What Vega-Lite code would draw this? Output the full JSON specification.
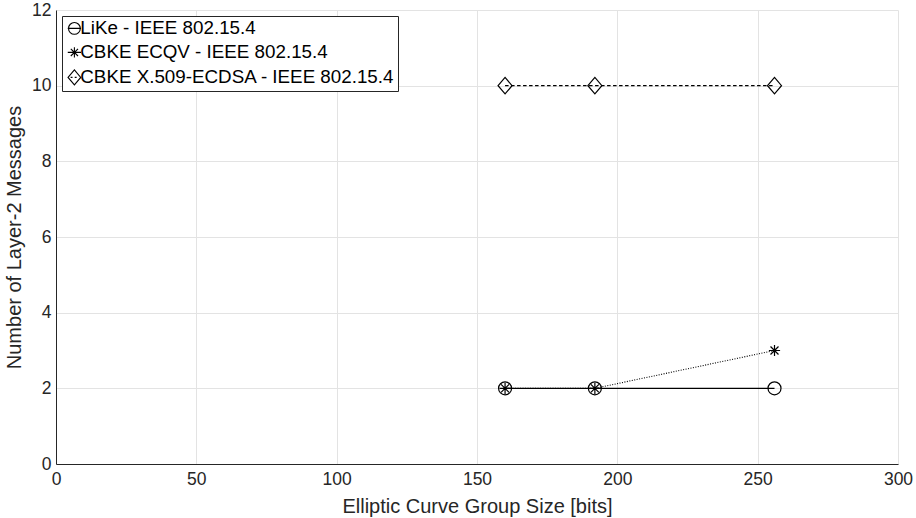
{
  "$schema": "https://vega.github.io/schema/vega-lite/v6.json",
  "width": 842,
  "height": 454,
  "autosize": {"type": "none"},
  "padding": {"left": 56, "top": 10, "right": 18, "bottom": 54},
  "background": "white",
  "config": {
    "font": "Liberation Sans",
    "view": {"stroke": null},
    "axis": {
      "labelFont": "Liberation Sans",
      "titleFont": "Liberation Sans",
      "labelColor": "#262626",
      "titleColor": "#262626",
      "domainColor": "#262626",
      "domainWidth": 1,
      "gridColor": "#e3e3e3",
      "gridWidth": 1,
      "ticks": false,
      "labelFontSize": 17.5,
      "titleFontSize": 20,
      "titleFontWeight": "normal"
    }
  },
  "data": {
    "values": [
      {"series": "LiKe - IEEE 802.15.4", "bits": 160, "msgs": 2},
      {"series": "LiKe - IEEE 802.15.4", "bits": 192, "msgs": 2},
      {"series": "LiKe - IEEE 802.15.4", "bits": 256, "msgs": 2},
      {"series": "CBKE ECQV - IEEE 802.15.4", "bits": 160, "msgs": 2},
      {"series": "CBKE ECQV - IEEE 802.15.4", "bits": 192, "msgs": 2},
      {"series": "CBKE ECQV - IEEE 802.15.4", "bits": 256, "msgs": 3},
      {"series": "CBKE X.509-ECDSA - IEEE 802.15.4", "bits": 160, "msgs": 10},
      {"series": "CBKE X.509-ECDSA - IEEE 802.15.4", "bits": 192, "msgs": 10},
      {"series": "CBKE X.509-ECDSA - IEEE 802.15.4", "bits": 256, "msgs": 10}
    ]
  },
  "encoding": {
    "x": {
      "field": "bits", "type": "quantitative",
      "scale": {"domain": [0, 300], "nice": false, "zero": false},
      "axis": {"values": [0, 50, 100, 150, 200, 250, 300], "title": "Elliptic Curve Group Size [bits]", "labelPadding": 6, "titlePadding": 9, "labelFlush": false}
    },
    "y": {
      "field": "msgs", "type": "quantitative",
      "scale": {"domain": [0, 12], "nice": false, "zero": false},
      "axis": {"values": [0, 2, 4, 6, 8, 10, 12], "title": "Number of Layer-2 Messages", "labelPadding": 5, "titlePadding": 7, "labelFlush": false}
    }
  },
  "resolve": {"scale": {"shape": "independent"}, "legend": {"shape": "independent"}},
  "layer": [
    {
      "transform": [{"filter": "datum.series === 'LiKe - IEEE 802.15.4'"}],
      "mark": {"type": "line", "color": "black", "strokeWidth": 1.2},
      "encoding": {}
    },
    {
      "transform": [{"filter": "datum.series === 'CBKE ECQV - IEEE 802.15.4'"}],
      "mark": {"type": "line", "color": "black", "strokeWidth": 1.1, "strokeDash": [1, 1.5]},
      "encoding": {}
    },
    {
      "transform": [{"filter": "datum.series === 'CBKE X.509-ECDSA - IEEE 802.15.4'"}],
      "mark": {"type": "line", "color": "black", "strokeWidth": 1.2, "strokeDash": [3.5, 2.5]},
      "encoding": {}
    },
    {
      "mark": {"type": "point", "filled": false, "color": "black", "strokeWidth": 1.2, "size": 196, "opacity": 1},
      "encoding": {
        "shape": {
          "field": "series", "type": "nominal",
          "scale": {
            "domain": ["LiKe - IEEE 802.15.4", "CBKE ECQV - IEEE 802.15.4", "CBKE X.509-ECDSA - IEEE 802.15.4"],
            "range": [
              "M-0.93,0A0.93,0.93 0 1,1 0.93,0A0.93,0.93 0 1,1 -0.93,0Z",
              "M-0.8,0L0.8,0M0,-0.8L0,0.8M-0.57,-0.57L0.57,0.57M-0.57,0.57L0.57,-0.57",
              "M-1,0L0,-1.18L1,0L0,1.18Z"
            ]
          },
          "legend": null
        }
      }
    },
    {
      "mark": {"type": "point", "filled": false, "color": "black", "strokeWidth": 1.1, "size": 160, "opacity": 0},
      "encoding": {
        "shape": {
          "field": "series", "type": "nominal",
          "scale": {
            "domain": ["LiKe - IEEE 802.15.4", "CBKE ECQV - IEEE 802.15.4", "CBKE X.509-ECDSA - IEEE 802.15.4"],
            "range": [
              "M-0.93,0A0.93,0.93 0 1,1 0.93,0A0.93,0.93 0 1,1 -0.93,0ZM-1.05,0L1.05,0",
              "M-1.05,0L1.05,0M0,-0.8L0,0.8M-0.57,-0.57L0.57,0.57M-0.57,0.57L0.57,-0.57",
              "M-1,0L0,-1.18L1,0L0,1.18ZM-0.6,0L-0.3,0M0.05,0L0.35,0"
            ]
          },
          "legend": {
            "title": null,
            "orient": "top-left",
            "offset": 6,
            "fillColor": "white",
            "strokeColor": "#262626",
            "padding": 3,
            "rowPadding": 4,
            "labelFontSize": 18.8,
            "labelFont": "Liberation Sans",
            "labelColor": "black",
            "labelOffset": -3.5,
            "labelLimit": 500,
            "symbolSize": 160,
            "symbolOpacity": 1,
            "symbolStrokeColor": "black",
            "symbolFillColor": "transparent",
            "symbolStrokeWidth": 1.1
          }
        }
      }
    }
  ]
}
